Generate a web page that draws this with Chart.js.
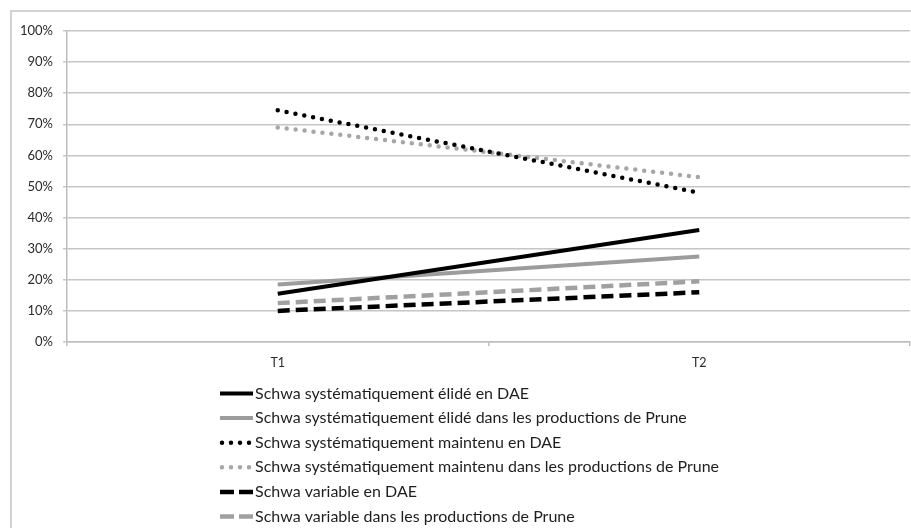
<!DOCTYPE html>
<html>
<head>
<meta charset="utf-8">
<script src="https://cdn.jsdelivr.net/npm/chart.js@4/dist/chart.umd.min.js"></script>
<style>
  html, body { margin: 0; padding: 0; background: #fff; overflow: hidden; }
  #frame { position: absolute; left: 10px; top: 10px; width: 2000px; height: 2000px; border: 2px solid #d2d2d2; box-sizing: border-box; }
  #wrap { position: absolute; left: 0; top: 0; width: 911px; height: 528px; }
</style>
</head>
<body>
<div id="frame"></div>
<div id="wrap"><canvas id="c"></canvas></div>
<script>
const categories = ['T1', 'T2'];
const elideDAE = [15.5, 36];
const elidePrune = [18.5, 27.5];
const maintenuDAE = [74.5, 48];
const maintenuPrune = [69, 53];
const variableDAE = [10, 16];
const variablePrune = [12.5, 19.5];
const seriesLabels = [
  'Schwa systématiquement élidé en DAE',
  'Schwa systématiquement élidé dans les productions de Prune',
  'Schwa systématiquement maintenu en DAE',
  'Schwa systématiquement maintenu dans les productions de Prune',
  'Schwa variable en DAE',
  'Schwa variable dans les productions de Prune'
];
const yTicks = [0, 10, 20, 30, 40, 50, 60, 70, 80, 90, 100];

const FONT = 'Lato, "Open Sans", sans-serif';

const legendPlugin = {
  id: 'customLegend',
  afterDraw(chart) {
    const ctx = chart.ctx;
    const x0 = 220, len = 33, textX = 255, y0 = 393.5, dy = 24.6;
    ctx.save();
    chart.data.datasets.forEach((ds, i) => {
      const y = y0 + i * dy;
      ctx.beginPath();
      ctx.strokeStyle = ds.borderColor;
      ctx.lineWidth = ds.borderWidth;
      ctx.lineCap = ds.borderCapStyle || 'butt';
      ctx.setLineDash(ds.legendDash || ds.borderDash || []);
      ctx.moveTo(x0 + (ds.legendInset || 0), y);
      ctx.lineTo(x0 + len, y);
      ctx.stroke();
      ctx.setLineDash([]);
      ctx.fillStyle = '#1e1e1e';
      ctx.font = '16px ' + FONT;
      ctx.textBaseline = 'middle';
      ctx.textAlign = 'left';
      ctx.fillText(ds.label, textX, y);
    });
    ctx.restore();
  }
};

new Chart(document.getElementById('c'), {
  type: 'line',
  data: {
    labels: categories,
    datasets: [
      { label: seriesLabels[0], data: elideDAE, borderColor: '#000000', borderWidth: 4 },
      { label: seriesLabels[1], data: elidePrune, borderColor: '#9c9c9c', borderWidth: 4 },
      { label: seriesLabels[2], data: maintenuDAE, borderColor: '#000000', borderWidth: 4.5, borderDash: [0, 9], borderCapStyle: 'round', legendInset: 2 },
      { label: seriesLabels[3], data: maintenuPrune, borderColor: '#a6a6a6', borderWidth: 4.5, borderDash: [0, 9], borderCapStyle: 'round', legendInset: 2 },
      { label: seriesLabels[4], data: variableDAE, borderColor: '#000000', borderWidth: 4.5, borderDash: [12, 6], legendDash: [14, 5] },
      { label: seriesLabels[5], data: variablePrune, borderColor: '#a0a0a0', borderWidth: 4.5, borderDash: [12, 6], legendDash: [14, 5] }
    ]
  },
  options: {
    responsive: true,
    maintainAspectRatio: false,
    animation: false,
    layout: { padding: { left: 0, right: 1, top: 31, bottom: 0 } },
    elements: { point: { radius: 0, hoverRadius: 0 }, line: { tension: 0 } },
    plugins: { legend: { display: false }, tooltip: { enabled: false } },
    scales: {
      x: {
        offset: true,
        grid: { offset: true, drawOnChartArea: false, drawTicks: true, tickLength: 4, color: '#bdbdbd', lineWidth: 1.5 },
        border: { color: '#bdbdbd', width: 1.5 },
        ticks: { color: '#2a2a2a', padding: 9, font: { family: FONT, size: 12.5 } },
        afterFit(scale) { scale.height = 186; }
      },
      y: {
        min: 0, max: 100,
        afterBuildTicks(scale) { scale.ticks = yTicks.map(v => ({ value: v })); },
        grid: { color: '#c6c6c6', lineWidth: 1.5, tickLength: 4 },
        border: { color: '#bdbdbd', width: 1.5 },
        ticks: { color: '#2a2a2a', padding: 10, font: { family: FONT, size: 13 }, callback: v => v + '%' },
        afterFit(scale) { scale.width = 67; }
      }
    }
  },
  plugins: [legendPlugin]
});
</script>
</body>
</html>
